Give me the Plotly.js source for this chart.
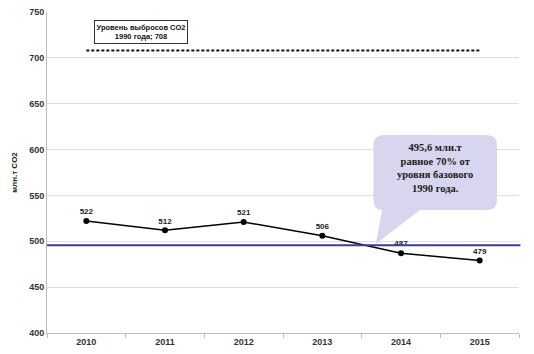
<!DOCTYPE html>
<html>
<head>
<meta charset="utf-8">
<script src="https://cdn.plot.ly/plotly-3.0.1.min.js"></script>
<style>html,body{margin:0;padding:0;background:#fff;}#chart{width:534px;height:354px;}</style>
</head>
<body>
<div id="chart"></div>
<script>
const years = ["2010", "2011", "2012", "2013", "2014", "2015"];
const emissions = [522, 512, 521, 506, 487, 479];
const baseLevel1990 = 708;
const target70 = 495.6;
const yTitle = "млн.т CO2";
const baseLabel = "Уровень выбросов CO2<br>1990 года; 708";
const calloutText = "495,6 млн.т<br>равное 70% от<br>уровня базового<br>1990 года.";

const trace = {
  x: years,
  y: emissions,
  type: "scatter",
  mode: "lines+markers+text",
  text: emissions.map(String),
  textposition: "top center",
  textfont: {family: "Arial, Liberation Sans, sans-serif", size: 8, color: "#222", weight: "bold"},
  line: {color: "#000", width: 1.5},
  marker: {color: "#000", size: 6},
  cliponaxis: false,
  hoverinfo: "skip"
};

const layout = {
  width: 534, height: 354,
  margin: {l: 47, r: 15, t: 12, b: 21},
  paper_bgcolor: "#fff", plot_bgcolor: "#fff",
  showlegend: false,
  font: {family: "Arial, Liberation Sans, sans-serif", color: "#333"},
  xaxis: {
    type: "category",
    range: [-0.5, 5.5],
    showgrid: false,
    showline: true, linecolor: "#bdbdbd", linewidth: 1,
    ticks: "outside", tickson: "boundaries", ticklen: 4, tickcolor: "#bdbdbd",
    tickfont: {size: 9, color: "#333", weight: "bold"},
    zeroline: false
  },
  yaxis: {
    range: [400, 750],
    dtick: 50,
    showgrid: true, gridcolor: "#dedede", gridwidth: 1,
    showline: true, linecolor: "#bdbdbd", linewidth: 1,
    ticks: "", ticklen: 0,
    tickfont: {size: 9, color: "#333", weight: "bold"},
    zeroline: false,
    title: {text: yTitle, font: {size: 8, color: "#222", weight: "bold"}, standoff: 10}
  },
  shapes: [
    {type: "line", xref: "paper", yref: "y", x0: 0, x1: 1.003, y0: target70, y1: target70,
     line: {color: "#3b3ba6", width: 2}},
    {type: "line", xref: "x", yref: "y", x0: 0, x1: 5, y0: baseLevel1990, y1: baseLevel1990,
     line: {color: "#111", width: 2, dash: "3px,2px"}},
    {type: "path", xref: "x", yref: "y",
     path: "M 3.78,616 L 5.09,616 Q 5.22,616 5.22,605 L 5.22,545 Q 5.22,534 5.09,534 L 4.24,534 L 3.68,497 L 3.76,534 Q 3.65,534 3.65,545 L 3.65,605 Q 3.65,616 3.78,616 Z",
     fillcolor: "#d8d6ef", line: {width: 0}, layer: "above"}
  ],
  annotations: [
    {xref: "paper", yref: "paper", x: (141 - 47) / 472, y: (333 - 32.5) / 321,
     xanchor: "center", yanchor: "middle",
     text: baseLabel, showarrow: false, align: "center",
     font: {size: 7.5, color: "#111", weight: "bold"},
     bordercolor: "#333", borderwidth: 1, borderpad: 1.5, bgcolor: "#fff"},
    {xref: "x", yref: "y", x: 4.43, y: 580, xanchor: "center", yanchor: "middle",
     text: calloutText, showarrow: false, align: "center",
     font: {family: "Liberation Serif, Times New Roman, serif", size: 10.5, color: "#1a1a1a", weight: "bold"}}
  ]
};

Plotly.newPlot("chart", [trace], layout, {staticPlot: true, displayModeBar: false});
</script>
</body>
</html>
